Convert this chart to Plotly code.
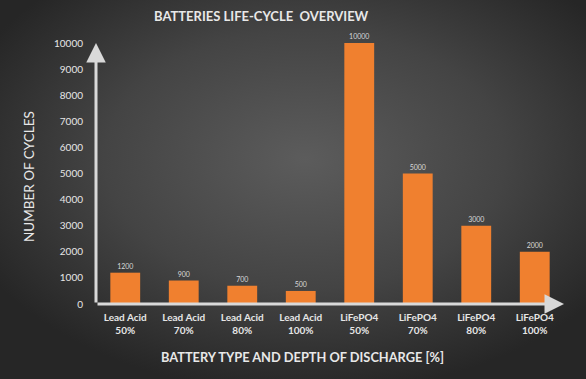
import base64
import plotly.graph_objects as go

categories = ["Lead Acid<br>50%", "Lead Acid<br>70%", "Lead Acid<br>80%", "Lead Acid<br>100%",
              "LiFePO4<br>50%", "LiFePO4<br>70%", "LiFePO4<br>80%", "LiFePO4<br>100%"]
cycles = [1200, 900, 700, 500, 10000, 5000, 3000, 2000]
y_ticks = list(range(0, 10001, 1000))
y_tick_labels = [str(v) for v in y_ticks]

W, H = 586, 379
ML, MR, MT, MB = 96, 22, 43, 75
pw, ph = W - ML - MR, H - MT - MB

svg = f'''<svg xmlns="http://www.w3.org/2000/svg" width="{W}" height="{H}" viewBox="0 0 {W} {H}" preserveAspectRatio="none">
<defs><radialGradient id="g" cx="0.52" cy="0.42" r="0.62" gradientUnits="objectBoundingBox">
<stop offset="0" stop-color="#5c5c5c"/><stop offset="0.55" stop-color="#444444"/><stop offset="1" stop-color="#262626"/>
</radialGradient></defs><rect width="{W}" height="{H}" fill="url(#g)"/></svg>'''
bg = "data:image/svg+xml;base64," + base64.b64encode(svg.encode()).decode()

fig = go.Figure()
fig.add_trace(go.Bar(
    x=categories, y=cycles,
    marker=dict(color="#f0802f", line=dict(width=0)),
    text=[str(v) for v in cycles], textposition="outside",
    textfont=dict(size=7, color="#d8d8d8", family="Lato"),
    cliponaxis=False, width=0.51,
))

AX = "#d9d9d9"
fig.update_layout(
    width=W, height=H,
    margin=dict(l=ML, r=MR, t=MT, b=MB, autoexpand=False),
    paper_bgcolor="#333333", plot_bgcolor="rgba(0,0,0,0)",
    showlegend=False,
    font=dict(family="Lato", color="#e0e0e0"),
    images=[dict(source=bg, xref="paper", yref="paper",
                 x=-ML / pw, y=1 + MT / ph, sizex=W / pw, sizey=H / ph,
                 sizing="stretch", xanchor="left", yanchor="top", layer="below")],
    xaxis=dict(showgrid=False, zeroline=False, showline=False,
               tickfont=dict(size=10, color="#e6e6e6", family="Lato"),
               tickprefix="<b>", ticksuffix="</b>",
               ticks="outside", ticklen=4, tickcolor="rgba(0,0,0,0)"),
    yaxis=dict(range=[0, 10000], tickvals=y_ticks, ticktext=y_tick_labels,
               showgrid=False, zeroline=False, showline=False,
               tickfont=dict(size=10, color="#e6e6e6", family="Lato"),
               ticks="outside", ticklen=10, tickcolor="rgba(0,0,0,0)"),
    annotations=[
        dict(text="<b>BATTERIES LIFE-CYCLE  OVERVIEW</b>", xref="paper", yref="paper",
             x=(261 - ML) / pw, y=1 + (MT - 16) / ph, showarrow=False,
             font=dict(size=13, color="#e8e8e8", family="Lato"), xanchor="center", yanchor="middle"),
        dict(text="<b>BATTERY TYPE AND DEPTH OF DISCHARGE [%]</b>", xref="paper", yref="paper",
             x=(302 - ML) / pw, y=-(357 - MT - ph) / ph, showarrow=False,
             font=dict(size=12.8, color="#e8e8e8", family="Lato"), xanchor="center", yanchor="middle"),
        dict(text="NUMBER OF CYCLES", xref="paper", yref="paper", textangle=-90,
             x=-(ML - 29) / pw, y=(MT + ph - 177) / ph, showarrow=False,
             font=dict(size=13.5, color="#e8e8e8", family="Lato"), xanchor="center", yanchor="middle"),
        dict(text="", xref="paper", yref="paper", x=0, y=1.0, ax=0, ay=ph, axref="pixel", ayref="pixel",
             showarrow=True, arrowhead=2, arrowsize=1.3, arrowwidth=3, arrowcolor=AX),
        dict(text="", xref="paper", yref="paper", x=1.0, y=0, ax=-pw, ay=0, axref="pixel", ayref="pixel",
             showarrow=True, arrowhead=2, arrowsize=1.3, arrowwidth=3, arrowcolor=AX),
    ],
)
fig.write_html("out.html", config={"displayModeBar": False},
               post_script="document.body.style.margin='0';")
